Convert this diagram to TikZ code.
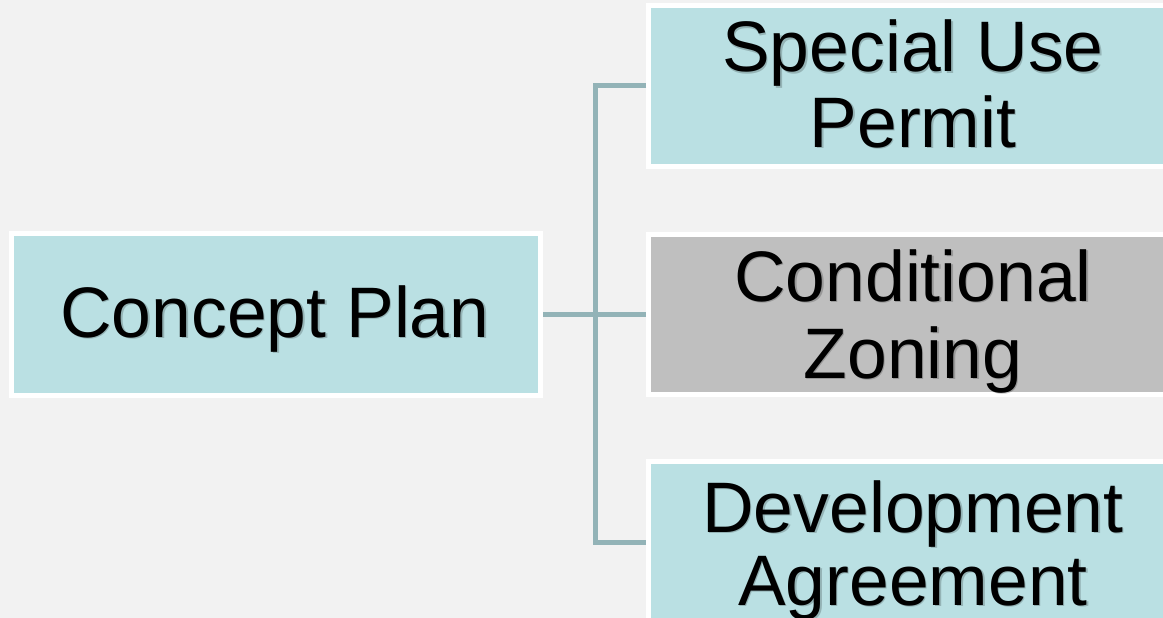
\documentclass[tikz,border=0pt]{standalone}
\usepackage{fontspec}
\setmainfont{Liberation Sans}
\definecolor{bgcol}{HTML}{F2F2F2}
\definecolor{boxteal}{HTML}{BAE0E3}
\definecolor{boxgray}{HTML}{BFBFBF}
\definecolor{conncol}{HTML}{93B3B7}
\begin{document}
\begin{tikzpicture}[x=1pt,y=-1pt,
  box/.style={draw=white,line width=5pt,inner sep=0pt,minimum width=529pt},
  link/.style={draw=conncol,line width=5pt},
  lbl/.style={font=\fontsize{71.5}{77}\selectfont,anchor=base,inner sep=0pt,text=black},
  shd/.style={lbl,text=black,opacity=0.2}]
\useasboundingbox (0,0) rectangle (1163,618);
\clip (0,0) rectangle (1163,618);
\fill[bgcol] (0,0) rectangle (1163,618);
% boxes
\node[box,fill=boxteal,minimum height=162pt] (cp) at (276,314.5) {};
\node[box,fill=boxteal,minimum height=161pt] (sup) at (913,86) {};
\node[box,fill=boxgray,minimum height=160pt] (cz) at (913,314.5) {};
\node[box,fill=boxteal,minimum height=161pt] (dev) at (913,542) {};
% connectors
\coordinate (j) at (595,314.5);
\draw[link] (cp.east) -- (cz.west);
\draw[link] (sup.west) -| (j) |- (dev.west);
% text shadows
\node[shd] (cps) at (276.3,338.3) {Concept Plan};
\node[shd] (sup1s) at (914.3,73.3) {Special Use};
\node[shd] (sup2s) at (914.3,148.3) {Permit};
\node[shd] (cz1s) at (914.3,302.3) {Conditional};
\node[shd] (cz2s) at (914.3,379.3) {Zoning};
\node[shd] (dev1s) at (914.3,533.3) {Development};
\node[shd] (dev2s) at (914.3,606.3) {Agreement};
% text
\node[lbl] (cpt) at (275,337) {Concept Plan};
\node[lbl] (sup1) at (913,72) {Special Use};
\node[lbl] (sup2) at (913,147) {Permit};
\node[lbl] (cz1) at (913,301) {Conditional};
\node[lbl] (cz2) at (913,378) {Zoning};
\node[lbl] (dev1) at (913,532) {Development};
\node[lbl] (dev2) at (913,605) {Agreement};
\end{tikzpicture}
\end{document}
